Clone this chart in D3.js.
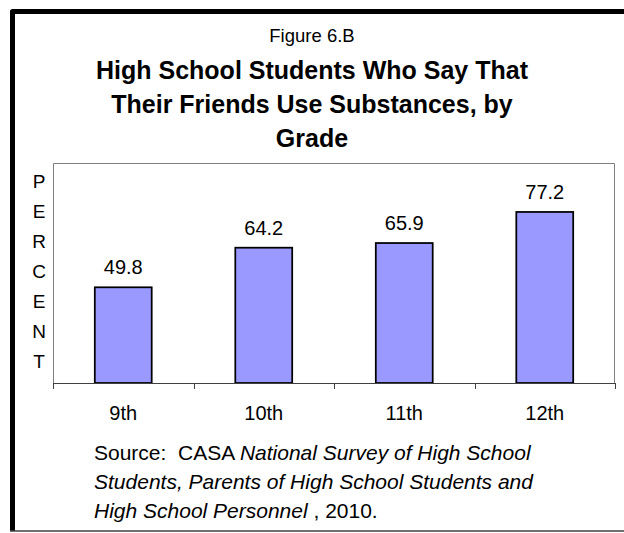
<!DOCTYPE html>
<html>
<head>
<meta charset="utf-8">
<script src="https://cdn.jsdelivr.net/npm/d3@7"></script>
<style>
  html, body { margin: 0; padding: 0; background: #fff; }
  svg { display: block; font-family: "Liberation Sans", Arial, sans-serif; }
</style>
</head>
<body>
<svg id="chart" width="624" height="533"></svg>
<script>
const grades = ["9th", "10th", "11th", "12th"];
const percents = [49.8, 64.2, 65.9, 77.2];
const valueLabels = ["49.8", "64.2", "65.9", "77.2"];
const yAxisLetters = ["P", "E", "R", "C", "E", "N", "T"];
const figureLabel = "Figure 6.B";
const titleLines = ["High School Students Who Say That", "Their Friends Use Substances, by", "Grade"];
const yDomain = [15, 95];

(function () {
const svg = d3.select("#chart");

// outer frame
svg.append("path")
  .attr("d", "M12.5,531 V11.5 H640")
  .attr("fill", "none").attr("stroke", "#000").attr("stroke-width", 5)
  .attr("stroke-linejoin", "round");
svg.append("line")
  .attr("x1", 10).attr("x2", 624).attr("y1", 531).attr("y2", 531)
  .attr("stroke", "#404040").attr("stroke-width", 1.5);

// titles
svg.append("text").attr("x", 312).attr("y", 41.5).attr("text-anchor", "middle")
  .attr("font-size", 18.5).attr("fill", "#000").text(figureLabel);
svg.selectAll("text.title").data(titleLines).enter().append("text")
  .attr("class", "title")
  .attr("x", 312).attr("y", (d, i) => 79 + i * 34)
  .attr("text-anchor", "middle").attr("font-size", 25).attr("font-weight", "bold")
  .attr("fill", "#000").text(d => d);

// plot
const pLeft = 53, pRight = 615, pTop = 163, pBottom = 383;
const x = d3.scaleBand().domain(grades).range([pLeft, pRight]).paddingInner(0).paddingOuter(0);
const y = d3.scaleLinear().domain(yDomain).range([pBottom, pTop]);

// plot border (top, left, right)
svg.append("path")
  .attr("d", `M${pLeft + 0.5},${pBottom} V${pTop + 0.5} H${pRight - 0.5} V${pBottom}`)
  .attr("fill", "none").attr("stroke", "#808080").attr("stroke-width", 1);

// bars
const bw = x.bandwidth() * 0.405;
svg.selectAll("rect.bar").data(grades).enter().append("rect")
  .attr("class", "bar")
  .attr("x", d => x(d) + (x.bandwidth() - bw) / 2)
  .attr("width", bw)
  .attr("y", (d, i) => y(percents[i]))
  .attr("height", (d, i) => pBottom - y(percents[i]))
  .attr("fill", "#9999FF").attr("stroke", "#000").attr("stroke-width", 1.75);

// value labels
svg.selectAll("text.val").data(grades).enter().append("text")
  .attr("class", "val")
  .attr("x", d => x(d) + x.bandwidth() / 2)
  .attr("y", (d, i) => y(percents[i]) - 13)
  .attr("text-anchor", "middle").attr("font-size", 20).attr("fill", "#000")
  .text((d, i) => valueLabels[i]);

// x axis
const xAxis = d3.axisBottom(x).tickSize(0).tickPadding(23);
const gx = svg.append("g").attr("transform", `translate(0,${pBottom})`).call(xAxis);
gx.select(".domain").remove();
gx.selectAll("text").attr("font-size", 20).attr("fill", "#000")
  .attr("font-family", "Liberation Sans, Arial, sans-serif");
svg.append("line").attr("x1", pLeft).attr("x2", pRight).attr("y1", pBottom + 0.5).attr("y2", pBottom + 0.5)
  .attr("stroke", "#404040").attr("stroke-width", 1.2);
const edges = grades.map(d => x(d)).concat([x(grades[grades.length - 1]) + x.bandwidth()]);
svg.selectAll("line.tick-edge").data(edges).enter().append("line")
  .attr("class", "tick-edge")
  .attr("x1", d => Math.round(d) + 0.5).attr("x2", d => Math.round(d) + 0.5)
  .attr("y1", pBottom).attr("y2", pBottom + 6)
  .attr("stroke", "#404040").attr("stroke-width", 1);

// y axis title letters
svg.selectAll("text.ylab").data(yAxisLetters).enter().append("text")
  .attr("class", "ylab")
  .attr("x", 39).attr("y", (d, i) => 188 + i * 30)
  .attr("text-anchor", "middle").attr("font-size", 19).attr("fill", "#000")
  .text(d => d);

// source note
const src = svg.append("g").attr("font-size", 21).attr("fill", "#000");
const l1 = src.append("text").attr("x", 94).attr("y", 460);
l1.append("tspan").attr("xml:space", "preserve").text("Source:  CASA ");
l1.append("tspan").attr("font-style", "italic").text("National Survey of High School");
src.append("text").attr("x", 94).attr("y", 489).attr("font-style", "italic")
  .text("Students, Parents of High School Students and");
const l3 = src.append("text").attr("x", 94).attr("y", 518);
l3.append("tspan").attr("font-style", "italic").text("High School Personnel");
l3.append("tspan").text(" , 2010.");
})();
</script>
</body>
</html>
